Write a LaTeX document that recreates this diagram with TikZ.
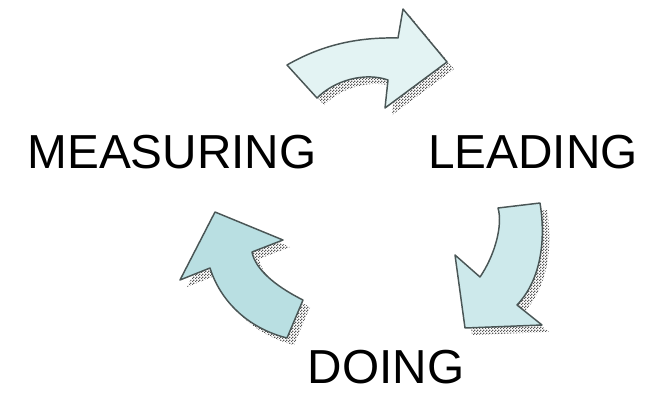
\documentclass[tikz,border=0pt]{standalone}
\usepackage{fontspec}
\setmainfont{Liberation Sans}
\usepackage{tikz}
\usetikzlibrary{patterns,positioning}

\definecolor{outline}{HTML}{4A5656}
\definecolor{palecyan}{HTML}{E3F3F3}
\definecolor{midcyan}{HTML}{CDE9EB}
\definecolor{deepcyan}{HTML}{B9DFE2}

\pgfdeclarepatternformonly{finechecker}{\pgfpointorigin}{\pgfqpoint{2pt}{2pt}}{\pgfqpoint{2pt}{2pt}}{
  \pgfpathrectangle{\pgfpointorigin}{\pgfqpoint{1pt}{1pt}}
  \pgfpathrectangle{\pgfqpoint{1pt}{1pt}}{\pgfqpoint{1pt}{1pt}}
  \pgfusepath{fill}
}

\tikzset{
  stage/.style={inner sep=0pt,anchor=base,font=\fontsize{35.8}{42}\selectfont},
  bentarrow/.style={draw=outline,line width=1.1pt,line join=round},
  shadowed/.style={pattern=finechecker,pattern color=black!65}
}

\begin{document}
\begin{tikzpicture}[x=0.75pt,y=-0.75pt]
  \useasboundingbox (0,0) rectangle (649,393);

  % top arrow
  \def\toppath{(287,65) .. controls (320,46) and (355,37) .. (398,38) -- (403,9) -- (447,62) -- (385,108) -- (388,80)
    .. controls (365,72) and (335,80) .. (317,98) -- cycle}
  \fill[shadowed,shift={(7,7)}] \toppath;
  \path[bentarrow,fill=palecyan] \toppath;

  % right arrow
  \def\rightpath{(498,208) -- (540,203) .. controls (546,240) and (541,280) .. (517,305) -- (542,325) -- (465,328)
    -- (455,255) -- (480,277) .. controls (495,255) and (503,225) .. cycle}
  \fill[shadowed,shift={(7,7)}] \rightpath;
  \path[bentarrow,fill=midcyan] \rightpath;

  % left arrow
  \def\leftpath{(287,338) -- (303,300) .. controls (273,285) and (255,268) .. (252,252) -- (283,240) -- (215,212)
    -- (180,280) -- (210,268) .. controls (220,300) and (247,328) .. cycle}
  \fill[shadowed,shift={(7,7)}] \leftpath;
  \path[bentarrow,fill=deepcyan] \leftpath;

  \node[stage] (measuring) at (172,168) {MEASURING};
  \node[stage] (leading) at (533,168) {LEADING};
  \node[stage] (doing) at (386,383) {DOING};
\end{tikzpicture}
\end{document}
